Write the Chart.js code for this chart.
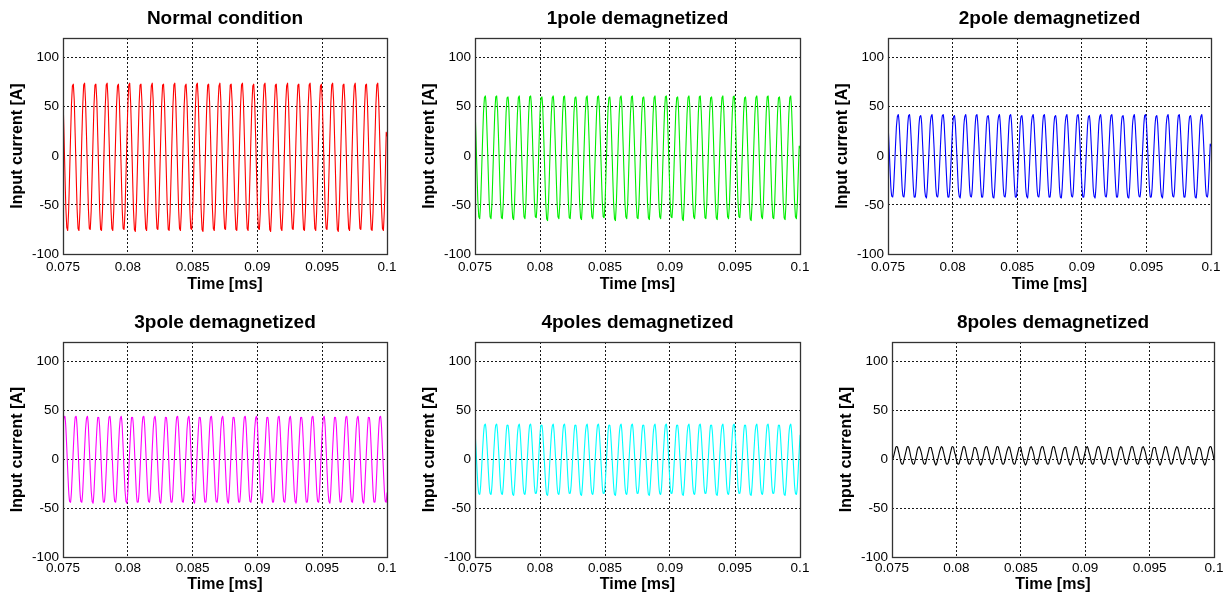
<!DOCTYPE html>
<html>
<head>
<meta charset="utf-8">
<script src="https://cdn.jsdelivr.net/npm/chart.js@4.4.1/dist/chart.umd.min.js"></script>
<style>
    html, body { margin: 0; padding: 0; background: #fff; overflow: hidden; }
    #page { position: relative; width: 1230px; height: 599px; }
    #page canvas { position: absolute; }
</style>
</head>
<body>
<div id="page"></div>
<script>
// sampling of the recorded currents (one row = one electrical period, 12 samples)
var timeStart = 0.075;
var timeStep = 0.0000725;
var timeTicks = [0.075, 0.08, 0.085, 0.09, 0.095, 0.1];
var timeTickLabels = ['0.075', '0.08', '0.085', '0.09', '0.095', '0.1'];
var currentTicks = [-100, -50, 0, 50, 100];

var panelTitles = ['Normal condition', '1pole demagnetized', '2pole demagnetized',
    '3pole demagnetized', '4poles demagnetized', '8poles demagnetized'];

var normalCurrent = [
    60, 24, -16, -52, -73, -76, -56, -20, 18, 52, 71, 73,
    56, 20, -18, -54, -74, -76, -57, -21, 17, 51, 72, 74,
    55, 21, -17, -53, -74, -75, -56, -20, 18, 52, 72, 73,
    56, 20, -18, -54, -75, -76, -57, -21, 17, 51, 72, 74,
    55, 19, -18, -53, -74, -76, -56, -20, 18, 52, 71, 73,
    56, 21, -17, -54, -74, -75, -57, -21, 17, 51, 72, 74,
    54, 20, -19, -55, -75, -77, -56, -20, 18, 53, 72, 73,
    55, 21, -17, -53, -74, -76, -57, -21, 17, 51, 71, 74,
    56, 20, -18, -54, -74, -75, -56, -20, 18, 52, 72, 73,
    55, 19, -18, -54, -75, -76, -57, -21, 17, 51, 72, 74,
    56, 21, -17, -53, -74, -76, -56, -20, 18, 52, 71, 73,
    55, 20, -18, -54, -74, -75, -57, -21, 17, 52, 72, 74,
    56, 20, -18, -54, -75, -77, -56, -20, 18, 51, 72, 73,
    55, 21, -17, -53, -74, -76, -57, -21, 17, 52, 71, 74,
    56, 19, -18, -54, -74, -75, -56, -20, 18, 51, 72, 73,
    55, 20, -18, -54, -75, -76, -57, -21, 17, 52, 72, 74,
    56, 21, -17, -53, -74, -76, -56, -20, 18, 51, 71, 73,
    55, 20, -18, -54, -74, -75, -57, -21, 17, 52, 72, 74,
    56, 19, -18, -54, -75, -77, -56, -20, 18, 51, 72, 73,
    55, 21, -17, -53, -74, -76, -57, -21, 17, 52, 71, 74,
    56, 20, -18, -54, -74, -75, -56, -20, 18, 51, 72, 73,
    55, 20, -18, -54, -75, -76, -57, -21, 17, 52, 72, 74,
    56, 21, -17, -53, -74, -76, -56, -20, 18, 51, 71, 73,
    55, 19, -18, -54, -74, -75, -57, -21, 17, 52, 72, 74,
    56, 20, -18, -54, -75, -77, -56, -20, 18, 51, 72, 73,
    55, 21, -17, -53, -74, -76, -57, -21, 17, 52, 71, 74,
    56, 20, -18, -54, -74, -75, -56, -20, 18, 51, 72, 73,
    55, 20, -18, -54, -75, -76, -57, -21, 17, 52, 72, 74,
    56, 21, -17, -53, -74, -76, -56, -20, 24, 20, -20, -18
];

var pole1Current = [
    50, 20, -14, -45, -62, -64, -48, -17, 15, 44, 59, 61,
    47, 17, -15, -46, -62, -64, -48, -17, 15, 44, 60, 61,
    46, 17, -15, -46, -63, -64, -48, -17, 15, 44, 59, 60,
    47, 16, -16, -47, -63, -65, -48, -17, 14, 43, 59, 61,
    46, 17, -15, -46, -62, -64, -49, -18, 15, 44, 60, 61,
    47, 18, -15, -46, -62, -63, -48, -17, 15, 44, 59, 60,
    46, 17, -16, -47, -64, -66, -48, -17, 15, 43, 59, 61,
    47, 17, -15, -46, -62, -64, -49, -18, 14, 44, 60, 61,
    46, 16, -15, -46, -63, -64, -48, -17, 15, 44, 59, 60,
    47, 17, -16, -47, -63, -65, -48, -17, 15, 43, 59, 61,
    46, 18, -15, -46, -62, -64, -49, -18, 15, 44, 60, 61,
    47, 17, -15, -46, -62, -63, -48, -17, 14, 44, 59, 60,
    46, 17, -16, -47, -64, -66, -48, -17, 15, 43, 59, 61,
    47, 16, -15, -46, -62, -64, -49, -18, 15, 44, 60, 61,
    46, 17, -15, -46, -63, -64, -48, -17, 15, 44, 59, 60,
    47, 18, -16, -47, -63, -65, -48, -17, 14, 43, 59, 61,
    46, 17, -15, -46, -62, -64, -49, -18, 15, 44, 60, 61,
    47, 17, -15, -46, -62, -63, -48, -17, 15, 44, 59, 60,
    46, 16, -16, -47, -64, -66, -48, -17, 15, 43, 59, 61,
    47, 17, -15, -46, -62, -64, -49, -18, 14, 44, 60, 61,
    46, 18, -15, -46, -63, -64, -48, -17, 15, 44, 59, 60,
    47, 17, -16, -47, -63, -65, -48, -17, 15, 43, 59, 61,
    46, 17, -15, -46, -62, -64, -49, -18, 15, 44, 60, 61,
    47, 16, -15, -46, -62, -63, -48, -17, 14, 44, 59, 60,
    46, 17, -16, -47, -64, -66, -48, -17, 15, 43, 59, 61,
    47, 18, -15, -46, -62, -64, -49, -18, 15, 44, 60, 61,
    46, 17, -15, -46, -63, -64, -48, -17, 15, 44, 59, 60,
    47, 17, -16, -47, -63, -65, -48, -17, 14, 43, 59, 61,
    46, 16, -15, -46, -62, -64, -49, -18, 10, 8, 6, 4
];

var pole2Current = [
    34, 13, -10, -31, -41, -42, -32, -12, 10, 30, 40, 42,
    32, 12, -10, -31, -41, -42, -32, -12, 10, 30, 41, 42,
    31, 12, -11, -31, -42, -42, -32, -12, 10, 30, 40, 41,
    32, 11, -10, -32, -41, -43, -32, -12, 10, 31, 40, 42,
    31, 12, -10, -31, -41, -42, -33, -12, 10, 30, 41, 42,
    32, 12, -11, -31, -42, -42, -32, -12, 9, 30, 40, 41,
    31, 11, -10, -32, -41, -43, -32, -12, 10, 31, 40, 42,
    32, 12, -10, -31, -41, -42, -33, -12, 10, 30, 41, 42,
    31, 12, -11, -31, -42, -42, -32, -12, 10, 30, 40, 41,
    32, 11, -10, -32, -42, -43, -32, -12, 10, 31, 40, 42,
    31, 12, -10, -31, -41, -42, -33, -12, 9, 30, 41, 42,
    32, 12, -11, -31, -42, -42, -32, -12, 10, 30, 40, 41,
    31, 11, -10, -32, -41, -43, -32, -12, 10, 31, 40, 42,
    32, 12, -10, -31, -41, -42, -33, -12, 10, 30, 41, 42,
    31, 12, -11, -31, -42, -42, -32, -12, 10, 30, 40, 41,
    32, 11, -10, -32, -42, -43, -32, -12, 9, 31, 40, 42,
    31, 12, -10, -31, -41, -42, -33, -12, 10, 30, 41, 42,
    32, 12, -11, -31, -42, -42, -32, -12, 10, 30, 40, 41,
    31, 11, -10, -32, -41, -43, -32, -12, 10, 31, 40, 42,
    32, 12, -10, -31, -41, -42, -33, -12, 10, 30, 41, 42,
    31, 12, -11, -31, -42, -42, -32, -12, 9, 30, 40, 41,
    32, 11, -10, -32, -42, -43, -32, -12, 10, 31, 40, 42,
    31, 12, -10, -31, -41, -42, -33, -12, 10, 30, 41, 42,
    32, 12, -11, -31, -42, -42, -32, -12, 10, 30, 40, 41,
    31, 11, -10, -32, -41, -43, -32, -12, 10, 31, 40, 42,
    32, 12, -10, -31, -41, -42, -33, -12, 9, 30, 41, 42,
    31, 12, -11, -31, -42, -42, -32, -12, 10, 30, 40, 41,
    32, 11, -10, -32, -42, -43, -32, -12, 10, 31, 40, 42,
    31, 12, -10, -31, -41, -42, -33, -12, 12, 10, 8, 6
];

var pole3Current = [
    36, 43, 44, 33, 12, -11, -32, -43, -44, -33, -12, 11,
    31, 43, 44, 33, 12, -11, -32, -43, -44, -33, -12, 11,
    31, 42, 44, 34, 12, -11, -32, -43, -45, -33, -12, 11,
    30, 43, 43, 33, 12, -12, -33, -44, -44, -33, -12, 11,
    31, 43, 44, 33, 11, -11, -32, -43, -44, -34, -12, 11,
    31, 42, 44, 34, 12, -11, -32, -43, -45, -33, -12, 10,
    30, 43, 43, 33, 12, -12, -33, -44, -44, -33, -12, 11,
    31, 43, 44, 33, 12, -11, -32, -43, -44, -34, -12, 11,
    31, 42, 44, 34, 11, -11, -32, -43, -45, -33, -12, 11,
    30, 43, 43, 33, 12, -12, -33, -44, -44, -33, -12, 11,
    31, 43, 44, 33, 12, -11, -32, -43, -44, -34, -12, 10,
    31, 42, 44, 34, 12, -11, -32, -43, -45, -33, -12, 11,
    30, 43, 43, 33, 11, -12, -33, -44, -44, -33, -12, 11,
    31, 43, 44, 33, 12, -11, -32, -43, -44, -34, -12, 11,
    31, 42, 44, 34, 12, -11, -32, -43, -45, -33, -12, 10,
    30, 43, 43, 33, 12, -12, -33, -44, -44, -33, -12, 11,
    31, 43, 44, 33, 11, -11, -32, -43, -44, -34, -12, 11,
    31, 42, 44, 34, 12, -11, -32, -43, -45, -33, -12, 11,
    30, 43, 43, 33, 12, -12, -33, -44, -44, -33, -12, 10,
    31, 43, 44, 33, 12, -11, -32, -43, -44, -34, -12, 11,
    31, 42, 44, 34, 11, -11, -32, -43, -45, -33, -12, 11,
    30, 43, 43, 33, 12, -12, -33, -44, -44, -33, -12, 11,
    31, 43, 44, 33, 12, -11, -32, -43, -44, -34, -12, 10,
    31, 42, 44, 34, 12, -11, -32, -43, -45, -33, -12, 11,
    30, 43, 43, 33, 11, -12, -33, -44, -44, -33, -12, 11,
    31, 43, 44, 33, 12, -11, -32, -43, -44, -34, -12, 11,
    31, 42, 44, 34, 12, -11, -32, -43, -45, -33, -12, 10,
    30, 43, 43, 33, 12, -12, -33, -44, -44, -33, -12, 11,
    31, 43, 44, 33, 11, -11, -32, -43, -44, -34, -12, 11
];

var poles4Current = [
    30, 12, -8, -26, -35, -36, -27, -10, 9, 25, 35, 36,
    27, 10, -9, -26, -35, -36, -27, -10, 9, 25, 35, 36,
    27, 10, -9, -27, -35, -36, -27, -10, 9, 26, 35, 35,
    26, 9, -9, -26, -36, -37, -27, -10, 8, 25, 34, 36,
    27, 10, -8, -26, -35, -36, -28, -10, 9, 25, 35, 36,
    27, 10, -9, -27, -35, -35, -27, -10, 9, 26, 35, 35,
    26, 9, -9, -26, -36, -37, -27, -10, 9, 25, 34, 36,
    27, 10, -8, -26, -35, -36, -28, -10, 8, 25, 35, 36,
    27, 10, -9, -27, -35, -35, -27, -10, 9, 26, 35, 35,
    26, 9, -9, -26, -36, -37, -27, -10, 9, 25, 34, 36,
    27, 10, -8, -26, -35, -36, -28, -10, 9, 25, 35, 36,
    27, 10, -9, -27, -35, -35, -27, -10, 8, 26, 35, 35,
    26, 9, -9, -26, -36, -37, -27, -10, 9, 25, 34, 36,
    27, 10, -8, -26, -35, -36, -28, -10, 9, 25, 35, 36,
    27, 10, -9, -27, -35, -35, -27, -10, 9, 26, 35, 35,
    26, 9, -9, -26, -36, -37, -27, -10, 8, 25, 34, 36,
    27, 10, -8, -26, -35, -36, -28, -10, 9, 25, 35, 36,
    27, 10, -9, -27, -35, -35, -27, -10, 9, 26, 35, 35,
    26, 9, -9, -26, -36, -37, -27, -10, 9, 25, 34, 36,
    27, 10, -8, -26, -35, -36, -28, -10, 8, 25, 35, 36,
    27, 10, -9, -27, -35, -35, -27, -10, 9, 26, 35, 35,
    26, 9, -9, -26, -36, -37, -27, -10, 9, 25, 34, 36,
    27, 10, -8, -26, -35, -36, -28, -10, 9, 25, 35, 36,
    27, 10, -9, -27, -35, -35, -27, -10, 8, 26, 35, 35,
    26, 9, -9, -26, -36, -37, -27, -10, 9, 25, 34, 36,
    27, 10, -8, -26, -35, -36, -28, -10, 9, 25, 35, 36,
    27, 10, -9, -27, -35, -35, -27, -10, 9, 26, 35, 35,
    26, 9, -9, -26, -36, -37, -27, -10, 8, 25, 34, 36,
    27, 10, -8, -26, -35, -36, -28, -10, 9, 25, 35, 36
];

var poles8Current = [
    2, 0, 4, 8, 12, 13, 12, 8, 4, -1, -4, -5,
    -4, 0, 4, 8, 12, 13, 12, 8, 3, -1, -4, -5,
    -4, 0, 4, 9, 12, 13, 11, 8, 4, -1, -4, -5,
    -4, 0, 4, 8, 12, 12, 12, 8, 4, -1, -4, -6,
    -4, 0, 4, 8, 11, 13, 12, 8, 4, 0, -4, -5,
    -4, -1, 4, 8, 12, 13, 12, 7, 4, -1, -4, -5,
    -4, 0, 4, 8, 12, 13, 12, 8, 3, -1, -4, -5,
    -4, 0, 3, 8, 12, 12, 11, 8, 4, -1, -4, -6,
    -4, 0, 4, 9, 12, 13, 12, 8, 4, -1, -4, -5,
    -4, 0, 4, 8, 12, 13, 12, 8, 4, 0, -4, -5,
    -4, -1, 4, 8, 11, 13, 12, 8, 4, -1, -4, -5,
    -4, 0, 4, 8, 12, 12, 12, 7, 3, -1, -4, -6,
    -4, 0, 4, 8, 12, 13, 11, 8, 4, -1, -4, -5,
    -4, 0, 4, 9, 12, 13, 12, 8, 4, -1, -4, -5,
    -4, 0, 3, 8, 12, 13, 12, 8, 4, 0, -4, -5,
    -4, -1, 4, 8, 11, 12, 12, 8, 3, -1, -4, -6,
    -4, 0, 4, 8, 12, 13, 12, 8, 4, -1, -4, -5,
    -4, 0, 4, 8, 12, 13, 11, 7, 4, -1, -4, -5,
    -4, 0, 4, 9, 12, 13, 12, 8, 4, -1, -4, -5,
    -4, 0, 4, 8, 12, 12, 12, 8, 3, 0, -4, -6,
    -4, -1, 3, 8, 11, 13, 12, 8, 4, -1, -4, -5,
    -4, 0, 4, 8, 12, 13, 12, 8, 4, -1, -4, -5,
    -4, 0, 4, 8, 12, 13, 11, 8, 4, -1, -4, -5,
    -4, 0, 4, 9, 12, 12, 12, 7, 3, -1, -4, -6,
    -4, 0, 4, 8, 12, 13, 12, 8, 4, 0, -4, -5,
    -4, -1, 4, 8, 11, 13, 12, 8, 4, -1, -4, -5,
    -4, 0, 3, 8, 12, 13, 12, 8, 4, -1, -4, -5,
    -4, 0, 4, 8, 12, 12, 11, 8, 3, -1, -4, -6,
    -4, 0, 4, 9, 12, 13, 12, 8, 4, -1, -4, -5
];

var seriesList = [normalCurrent, pole1Current, pole2Current, pole3Current, poles4Current, poles8Current];
var seriesColors = ['#ff0000', '#00ee00', '#0000ff', '#ff00ff', '#00ffff', '#000000'];

// plot frame of each subplot on the page
var panelFrames = [
    { left: 63, right: 387, top: 38, bottom: 254 },
    { left: 475, right: 800, top: 38, bottom: 254 },
    { left: 888, right: 1211, top: 38, bottom: 254 },
    { left: 63, right: 387, top: 342, bottom: 557 },
    { left: 475, right: 800, top: 342, bottom: 557 },
    { left: 892, right: 1214, top: 342, bottom: 557 }
];

var fontFamily = '"Liberation Sans", Arial, Helvetica, sans-serif';

var frameBox = {
    id: 'frameBox',
    afterDraw: function (chart) {
        var a = chart.chartArea;
        var ctx = chart.ctx;
        ctx.save();
        ctx.strokeStyle = '#333';
        ctx.lineWidth = 1.3;
        ctx.strokeRect(Math.round(a.left) + 0.5, Math.round(a.top) + 0.5,
            Math.round(a.right - a.left), Math.round(a.bottom - a.top));
        ctx.restore();
    }
};

var currentPlots = {
    build: function (i) {
        var frame = panelFrames[i];
        var canvasTop = frame.top - 38;
        var canvasLeft = frame.left - 63;
        var width = frame.right - frame.left + 86;
        var height = i < 3 ? 300 : 599 - canvasTop;
        var axisHeight = height - (frame.bottom - canvasTop);

        var canvas = document.createElement('canvas');
        canvas.width = width;
        canvas.height = height;
        canvas.style.left = canvasLeft + 'px';
        canvas.style.top = canvasTop + 'px';
        document.getElementById('page').appendChild(canvas);

        var points = seriesList[i].map(function (v, k) {
            return { x: timeStart + k * timeStep, y: v };
        });

        var gridColor = function (edgeValues) {
            return function (c) {
                if (!c.tick) return 'transparent';
                for (var e = 0; e < edgeValues.length; e++) {
                    if (Math.abs(c.tick.value - edgeValues[e]) < 1e-9) return 'transparent';
                }
                return 'rgba(0,0,0,0.9)';
            };
        };

        return new Chart(canvas.getContext('2d'), {
            type: 'line',
            data: {
                datasets: [{
                    data: points,
                    borderColor: seriesColors[i],
                    borderWidth: 1.1,
                    pointRadius: 0,
                    // small tension only to keep chart.js off its per-pixel fast path
                    tension: 0.05,
                    fill: false
                }]
            },
            options: {
                responsive: false,
                animation: false,
                events: [],
                layout: { padding: { left: 0, right: width - 63 - (frame.right - frame.left), top: 0, bottom: 0 } },
                plugins: {
                    legend: { display: false },
                    tooltip: { enabled: false },
                    title: {
                        display: true,
                        text: panelTitles[i],
                        fullSize: false,
                        color: '#000',
                        font: { family: fontFamily, size: 19, weight: 'bold', lineHeight: 1.2 },
                        padding: { top: 7, bottom: 8.2 }
                    }
                },
                scales: {
                    x: {
                        type: 'linear',
                        min: timeTicks[0],
                        max: timeTicks[timeTicks.length - 1],
                        afterBuildTicks: function (axis) {
                            axis.ticks = timeTicks.map(function (v) { return { value: v }; });
                        },
                        afterFit: function (axis) { axis.height = axisHeight; },
                        ticks: {
                            autoSkip: false,
                            maxRotation: 0,
                            padding: i < 3 ? 5 : 3,
                            color: '#000',
                            font: { family: fontFamily, size: 13.5 },
                            callback: function (v, k) { return timeTickLabels[k]; }
                        },
                        grid: { color: gridColor([0.075, 0.1]), lineWidth: 1, drawTicks: false },
                        border: { display: false, dash: [2, 2] },
                        title: {
                            display: true,
                            text: 'Time [ms]',
                            color: '#000',
                            font: { family: fontFamily, size: 16, weight: 'bold', lineHeight: 1.2 },
                            padding: { top: 0, bottom: i < 3 ? 5.4 : 4.4 }
                        }
                    },
                    y: {
                        min: -100,
                        max: 120,
                        afterBuildTicks: function (axis) {
                            axis.ticks = currentTicks.map(function (v) { return { value: v }; });
                        },
                        afterFit: function (axis) { axis.width = 63; },
                        ticks: {
                            padding: 4,
                            color: '#000',
                            font: { family: fontFamily, size: 13.5 }
                        },
                        grid: { color: gridColor([-100]), lineWidth: 1, drawTicks: false },
                        border: { display: false, dash: [2, 2] },
                        title: {
                            display: true,
                            text: 'Input current [A]',
                            color: '#000',
                            font: { family: fontFamily, size: 16, weight: 'bold', lineHeight: 1.2 },
                            padding: { top: 8.4, bottom: 0 }
                        }
                    }
                }
            },
            plugins: [frameBox]
        });
    }
};

for (var p = 0; p < panelFrames.length; p++) {
    currentPlots.build(p);
}
</script>
</body>
</html>
